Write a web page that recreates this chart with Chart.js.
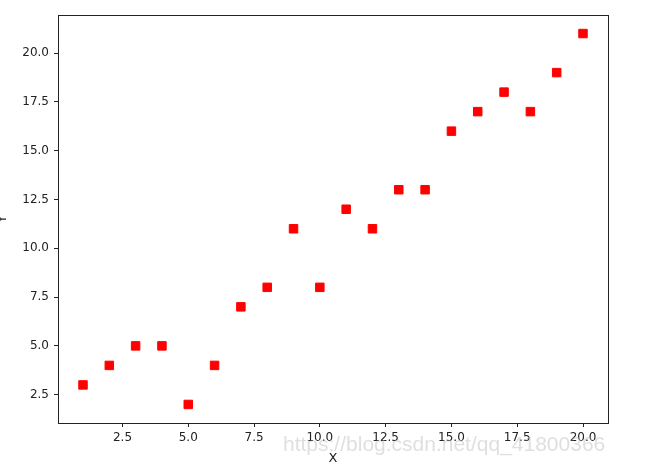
<!DOCTYPE html>
<html>
<head>
<meta charset="utf-8">
<script src="https://cdn.jsdelivr.net/npm/chart.js@4"></script>
<style>
  html, body { margin: 0; padding: 0; background: #fff; }
  #wrap { width: 652px; height: 476px; }
</style>
</head>
<body>
<div id="wrap"><canvas id="chart" width="652" height="476"></canvas></div>
<script>
const xValues = [1, 2, 3, 4, 5, 6, 7, 8, 9, 10, 11, 12, 13, 14, 15, 16, 17, 18, 19, 20];
const yValues = [3, 4, 5, 5, 2, 4, 7, 8, 11, 8, 12, 11, 13, 13, 16, 17, 18, 17, 19, 21];
const xTicks = [2.5, 5.0, 7.5, 10.0, 12.5, 15.0, 17.5, 20.0];
const yTicks = [2.5, 5.0, 7.5, 10.0, 12.5, 15.0, 17.5, 20.0];
const watermark = 'https://blog.csdn.net/qq_41800366';

const tickFont = { family: 'DejaVu Sans', size: 12 };

// matplotlib style box round the plot area, plus the blog watermark
const framePlugin = {
    id: 'frame',
    afterDraw(chart) {
        const { ctx, chartArea: a } = chart;
        ctx.save();
        ctx.strokeStyle = '#222';
        ctx.lineWidth = 1;
        ctx.strokeRect(Math.round(a.left) + 0.5, Math.round(a.top) + 0.5,
            Math.round(a.right - a.left), Math.round(a.bottom - a.top));
        ctx.fillStyle = 'rgba(185,185,185,0.45)';
        ctx.font = '21px "Liberation Sans"';
        ctx.textBaseline = 'middle';
        ctx.fillText(watermark, 283, 445);
        ctx.restore();
    }
};

new Chart(document.getElementById('chart'), {
    type: 'scatter',
    data: {
        datasets: [{
            data: xValues.map((x, i) => ({ x: x, y: yValues[i] })),
            pointStyle: 'rect',
            pointRadius: 6,
            pointHoverRadius: 6,
            backgroundColor: '#ff0000',
            borderColor: '#ff0000',
            borderWidth: 1,
        }],
    },
    options: {
        responsive: false,
        animation: false,
        layout: { padding: { left: 0, right: 44, top: 15, bottom: 0 } },
        plugins: {
            legend: { display: false },
            tooltip: { enabled: false },
        },
        scales: {
            x: {
                type: 'linear',
                min: 0.05,
                max: 20.95,
                afterFit: (s) => { s.height = 53; },
                afterBuildTicks: (s) => { s.ticks = xTicks.map(v => ({ value: v })); },
                grid: { drawOnChartArea: false, drawTicks: true, tickLength: 4, tickColor: '#222' },
                border: { display: false },
                ticks: { color: '#222', font: tickFont, padding: 4, maxRotation: 0,
                    callback: (v) => v.toFixed(1) },
                title: { display: true, text: 'X', color: '#222', font: { family: 'DejaVu Sans', size: 13 },
                    padding: { top: 0, bottom: 10 } },
            },
            y: {
                type: 'linear',
                min: 1.05,
                max: 21.95,
                afterFit: (s) => { s.width = 58; },
                afterBuildTicks: (s) => { s.ticks = yTicks.map(v => ({ value: v })); },
                grid: { drawOnChartArea: false, drawTicks: true, tickLength: 4, tickColor: '#222' },
                border: { display: false },
                ticks: { color: '#222', font: tickFont, padding: 5,
                    callback: (v) => v.toFixed(1) },
                title: { display: true, text: 'Y', color: '#222', font: { family: 'DejaVu Sans', size: 13 },
                    padding: { top: -5, bottom: 0 } },
            },
        },
    },
    plugins: [framePlugin],
});
</script>
</body>
</html>
